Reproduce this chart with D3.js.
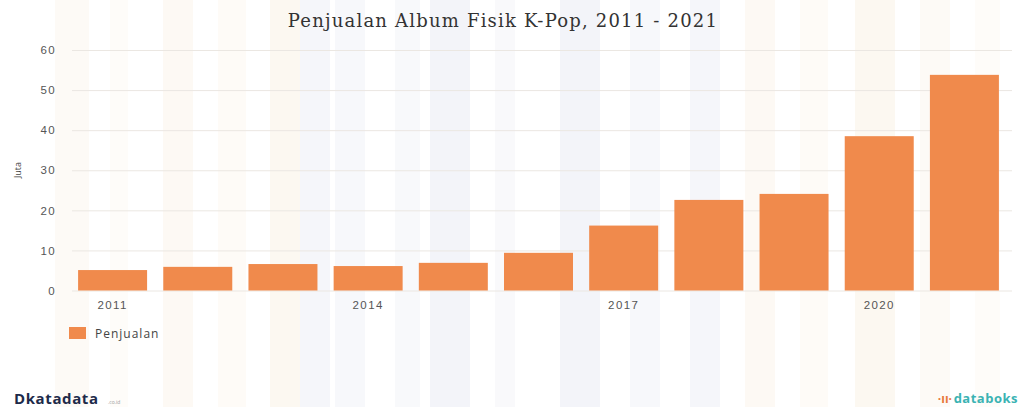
<!DOCTYPE html>
<html>
<head>
<meta charset="utf-8">
<script src="https://cdn.jsdelivr.net/npm/d3@7"></script>
<style>
  body { margin: 0; background: #fff; }
  svg { display: block; font-family: "Open Sans", "DejaVu Sans", sans-serif; }
  .axis text { fill: #555; font-size: 11.5px; letter-spacing: 1.4px; }
  .axis path { display: none; }
  .axis--y .tick line { stroke: #ebe7e2; }
  .axis--x .tick line { display: none; }
</style>
</head>
<body>
<svg id="chart" width="1025" height="407"></svg>
<script>
var years = [2011, 2012, 2013, 2014, 2015, 2016, 2017, 2018, 2019, 2020, 2021];
var penjualan = [5.1, 5.9, 6.6, 6.1, 6.9, 9.4, 16.2, 22.6, 24.1, 38.5, 53.8];
var yTicks = [0, 10, 20, 30, 40, 50, 60];
var xTickYears = [2011, 2014, 2017, 2020];
var title = "Penjualan Album Fisik K-Pop, 2011 - 2021";
var seriesName = "Penjualan";
var yLabel = "Juta";

var svg = d3.select("#chart");
var w = 1025, h = 407;

// faint watermark stripes in the background
var bg = svg.append("g").attr("class", "bg");
[[55, 34, "#fdfaf6"], [110, 18, "#fefcf9"], [163, 30, "#fdf9f4"], [218, 28, "#fefbf7"], [270, 40, "#fcf8f1"],
 [300, 30, "#f5f6fa"], [335, 30, "#f7f8fb"], [395, 25, "#f8f9fb"], [430, 40, "#f3f4f9"],
 [495, 20, "#f9f9fb"], [560, 40, "#f3f4f9"], [630, 30, "#f7f8fb"], [690, 30, "#f5f6fa"],
 [745, 30, "#fdf9f4"], [800, 28, "#fefbf7"], [855, 40, "#fcf8f1"], [920, 30, "#fdfaf6"], [975, 25, "#fefcf9"]]
  .forEach(function(s) {
    bg.append("rect").attr("x", s[0]).attr("y", 0).attr("width", s[1]).attr("height", h).attr("fill", s[2]);
  });

var margin = {top: 50, right: 15, bottom: 116, left: 70}
  , g = svg.append("g").attr("transform", "translate(" + margin.left + "," + margin.top + ")");

var x = d3.scaleBand()
  .domain(years)
  .range([0, 937])
  .paddingInner(0.19)
  .paddingOuter(0.095);

var y = d3.scaleLinear()
  .domain([0, 60])
  .range([240.5, 0]);

var yAxis = d3.axisLeft(y)
  .tickValues(yTicks)
  .tickSizeInner(-940)
  .tickSizeOuter(0)
  .tickPadding(16);

var xAxis = d3.axisBottom(x)
  .tickValues(xTickYears)
  .tickSize(0)
  .tickPadding(10);

g.append("g")
  .attr("class", "axis axis--y")
  .attr("transform", "translate(2,0)")
  .call(yAxis)
  .selectAll("text")
  .attr("text-anchor", "end");

g.append("g")
  .attr("class", "axis axis--x")
  .attr("transform", "translate(0,240.5)")
  .call(xAxis);

g.selectAll("rect.bar")
  .data(years)
  .enter()
  .append("rect")
  .attr("class", "bar")
  .attr("x", function(d) { return x(d); })
  .attr("width", x.bandwidth())
  .attr("y", function(d, i) { return y(penjualan[i]); })
  .attr("height", function(d, i) { return y(0) - y(penjualan[i]); })
  .attr("fill", "#f08a4c");

svg.append("text")
  .attr("transform", "translate(21,170) rotate(-90)")
  .attr("text-anchor", "middle")
  .attr("font-size", 9)
  .attr("fill", "#444")
  .text(yLabel);

svg.append("text")
  .attr("x", 503)
  .attr("y", 27)
  .attr("text-anchor", "middle")
  .attr("font-family", "DejaVu Serif, serif")
  .attr("font-size", 18)
  .attr("letter-spacing", 1.2)
  .attr("fill", "#333")
  .text(title);

// legend
svg.append("rect").attr("x", 69).attr("y", 327).attr("width", 17).attr("height", 12).attr("fill", "#f08a4c");
svg.append("text").attr("x", 95).attr("y", 338).attr("font-size", 12).attr("letter-spacing", 1)
  .attr("fill", "#444").text(seriesName);

// brand marks
svg.append("text").attr("x", 14).attr("y", 404).attr("font-size", 15).attr("font-weight", "bold")
  .attr("letter-spacing", 0.6).attr("fill", "#1d2a4a").text("Dkatadata");
svg.append("text").attr("x", 108).attr("y", 404).attr("font-size", 5).attr("fill", "#999").text(".co.id");
svg.append("text").attr("x", 1018).attr("y", 403).attr("text-anchor", "end").attr("font-size", 13)
  .attr("font-weight", "bold").attr("letter-spacing", 0.5).attr("fill", "#3bb3b3").text("databoks");
svg.append("text").attr("x", 952).attr("y", 403).attr("text-anchor", "end").attr("font-size", 12)
  .attr("font-weight", "bold").attr("fill", "#e8793a").text("·ıı·");
</script>
</body>
</html>
